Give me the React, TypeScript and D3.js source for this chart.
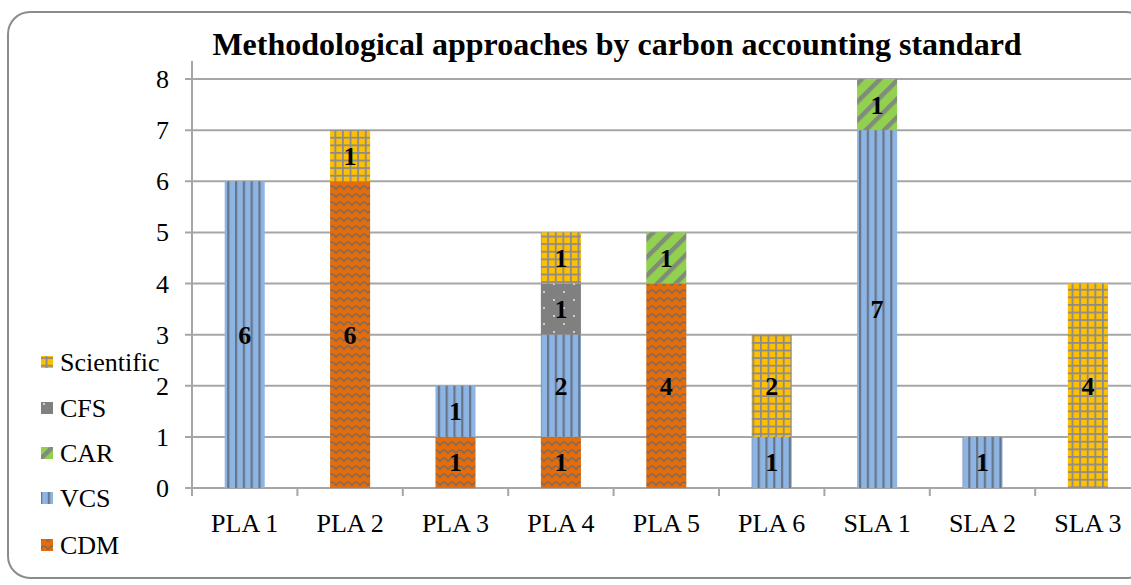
import React from "react";
import * as d3 from "d3";

const categories = ["PLA 1", "PLA 2", "PLA 3", "PLA 4", "PLA 5", "PLA 6", "SLA 1", "SLA 2", "SLA 3"];
const seriesNames = ["CDM", "VCS", "CAR", "CFS", "Scientific"];
const cdm = [0, 6, 1, 1, 4, 0, 0, 0, 0];
const vcs = [6, 0, 1, 2, 0, 1, 7, 1, 0];
const car = [0, 0, 0, 0, 1, 0, 1, 0, 0];
const cfs = [0, 0, 0, 1, 0, 0, 0, 0, 0];
const scientific = [0, 1, 0, 1, 0, 2, 0, 0, 4];
const yTicks = [0, 1, 2, 3, 4, 5, 6, 7, 8];
const title = "Methodological approaches by carbon accounting standard";

const W = 1131;
const H = 585;
const FONT = "Liberation Serif";

export default function App() {
  const valuesBySeries: Record<string, number[]> = {
    CDM: cdm,
    VCS: vcs,
    CAR: car,
    CFS: cfs,
    Scientific: scientific,
  };
  const table = categories.map((c, i) => {
    const row: any = { cat: c };
    seriesNames.forEach((s) => (row[s] = valuesBySeries[s][i]));
    return row;
  });
  const stacked = d3.stack<any>().keys(seriesNames)(table);

  const left = 192;
  const band = 105.4;
  const x = d3
    .scaleBand<string>()
    .domain(categories)
    .range([left, left + band * categories.length])
    .paddingInner(0.62)
    .paddingOuter(0.31);
  const xb = d3.scaleBand<string>().domain(categories).range([left, left + band * categories.length]);
  const y = d3.scaleLinear().domain([0, 8]).range([488, 79]);

  const fillFor: Record<string, string> = {
    CDM: "url(#pCDM)",
    VCS: "url(#pVCS)",
    CAR: "url(#pCAR)",
    CFS: "url(#pCFS)",
    Scientific: "url(#pSci)",
  };

  const legendOrder = [...seriesNames].reverse();
  const legendY = [362, 408, 453, 498, 545];
  const right = left + band * categories.length;
  const ts: React.CSSProperties = { fontFamily: FONT };

  return (
    <svg
      width={W}
      height={H}
      style={{ position: "absolute", left: 0, top: 0, background: "#fff" }}
    >
      <defs>
        <pattern id="pVCS" patternUnits="userSpaceOnUse" width={7.8} height={8}>
          <rect width={7.8} height={8} fill="#8DB4E2" />
          <rect x={1} width={2.2} height={8} fill="#667689" />
        </pattern>
        <pattern id="pCDM" patternUnits="userSpaceOnUse" width={8} height={8}>
          <rect width={8} height={8} fill="#E46C0A" />
          <path d="M0,5.5 Q2,2 4,2 Q6,2 8,5.5" fill="none" stroke="#7F6A5C" strokeWidth={1.7} />
        </pattern>
        <pattern id="pSci" patternUnits="userSpaceOnUse" width={7.6} height={7.6}>
          <rect width={7.6} height={7.6} fill="#FFC000" />
          <rect x={0} width={1.8} height={7.6} fill="#8C8C8C" />
          <rect y={0} width={7.6} height={1.8} fill="#8C8C8C" />
        </pattern>
        <pattern id="pCFS" patternUnits="userSpaceOnUse" width={20} height={16}>
          <rect width={20} height={16} fill="#808080" />
          <circle cx={4} cy={4} r={1} fill="#E8E8E8" />
          <circle cx={14} cy={12} r={1} fill="#E8E8E8" />
        </pattern>
        <pattern
          id="pCAR"
          patternUnits="userSpaceOnUse"
          width={13}
          height={13}
          patternTransform="rotate(-45)"
        >
          <rect width={13} height={13} fill="#92D050" />
          <rect width={13} height={4.5} fill="#7F8C7A" />
        </pattern>
      </defs>

      {/* outer border */}
      <rect x={8} y={12} width={1140} height={566} rx={22} ry={22} fill="none" stroke="#8C8C8C" strokeWidth={2} />

      {/* title */}
      <text x={617} y={55} textAnchor="middle" fontSize={32} fontWeight="bold" fill="#000" style={ts}>
        {title}
      </text>

      {/* gridlines */}
      {yTicks.map((t) => (
        <g key={t}>
          <line x1={185} x2={right} y1={y(t)} y2={y(t)} stroke="#A6A6A6" strokeWidth={2} />
          <text x={169} y={y(t) + 9} textAnchor="end" fontSize={26} fill="#000" style={ts}>
            {t}
          </text>
        </g>
      ))}

      {/* y axis line */}
      <line x1={left} x2={left} y1={61} y2={496} stroke="#A6A6A6" strokeWidth={2} />

      {/* x ticks and labels */}
      {categories.map((c) => (
        <g key={c}>
          <line
            x1={(xb(c) as number) + band}
            x2={(xb(c) as number) + band}
            y1={488}
            y2={496}
            stroke="#A6A6A6"
            strokeWidth={2}
          />
          <text
            x={(xb(c) as number) + band / 2}
            y={532}
            textAnchor="middle"
            fontSize={26}
            fill="#000"
            style={ts}
          >
            {c}
          </text>
        </g>
      ))}

      {/* bars */}
      {stacked.map((s) => (
        <g key={s.key}>
          {s.map((d, i) =>
            d[1] - d[0] > 0 ? (
              <rect
                key={i}
                x={x(categories[i])}
                width={x.bandwidth()}
                y={y(d[1])}
                height={y(d[0]) - y(d[1])}
                fill={fillFor[s.key]}
              />
            ) : null
          )}
        </g>
      ))}

      {/* value labels */}
      {stacked.map((s) => (
        <g key={"l" + s.key}>
          {s.map((d, i) =>
            d[1] - d[0] > 0 ? (
              <text
                key={i}
                x={(x(categories[i]) as number) + x.bandwidth() / 2}
                y={(y(d[0]) + y(d[1])) / 2 + 9}
                textAnchor="middle"
                fontSize={26}
                fontWeight="bold"
                fill="#000"
                style={ts}
              >
                {d[1] - d[0]}
              </text>
            ) : null
          )}
        </g>
      ))}

      {/* legend */}
      {legendOrder.map((s, i) => (
        <g key={"lg" + s}>
          <rect x={41} y={legendY[i] - 6} width={12} height={12} fill={fillFor[s]} />
          <text x={60} y={legendY[i] + 9} fontSize={26} fill="#000" style={ts}>
            {s}
          </text>
        </g>
      ))}
    </svg>
  );
}
